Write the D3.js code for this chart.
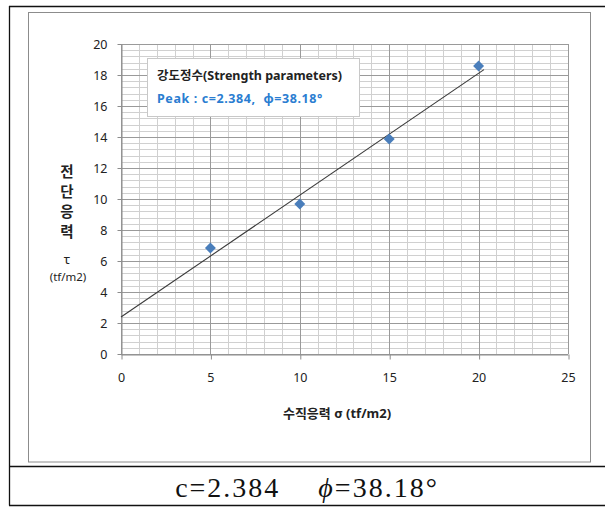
<!DOCTYPE html>
<html><head><meta charset="utf-8">
<script src="https://cdn.jsdelivr.net/npm/d3@7"></script>
<style>
html,body{margin:0;padding:0;background:#fff;}
svg{display:block;}
text{white-space:pre;}
</style></head>
<body>
<svg id="c" width="605" height="507"></svg>
<script>
// ---- data ----
const sigma = [5, 10, 15, 20];
const tau = [6.84, 9.68, 13.87, 18.58];
const cohesion = 2.384;
const phiDeg = 38.18;
const fitRange = [0, 20.3];
const xTicks = [0, 5, 10, 15, 20, 25];
const yTicks = [0, 2, 4, 6, 8, 10, 12, 14, 16, 18, 20];
const yTitleChars = ["전", "단", "응", "력"];
const boxTitle = "강도정수(Strength parameters)";
const boxText = "Peak : c=2.384,  ϕ=38.18°";
const xTitle = "수직응력 σ (tf/m2)";

const svg = d3.select("#c");
const font = "'Noto Sans','Noto Sans CJK KR',sans-serif";

// outer table
svg.append("line").attr("x1",9.5).attr("x2",9.5).attr("y1",6).attr("y2",505.5).attr("stroke","#111").attr("stroke-width",1.3);
svg.append("line").attr("x1",9).attr("x2",605).attr("y1",6.5).attr("y2",6.5).attr("stroke","#111").attr("stroke-width",1.3);
svg.append("line").attr("x1",9).attr("x2",605).attr("y1",466.5).attr("y2",466.5).attr("stroke","#111").attr("stroke-width",1.3);
svg.append("line").attr("x1",9).attr("x2",605).attr("y1",505.5).attr("y2",505.5).attr("stroke","#111").attr("stroke-width",1.3);
// inner chart frame
svg.append("rect").attr("x",28.5).attr("y",12.5).attr("width",562).attr("height",449.5)
  .attr("fill","#fff").attr("stroke","#8c8c8c").attr("stroke-width",1);

const x = d3.scaleLinear().domain([0,25]).range([121,568]);
const y = d3.scaleLinear().domain([0,20]).range([354,44]);

const g = svg.append("g");
// minor grid
const xMinor = d3.range(0, 25.001, 1);
const yMinor = d3.range(0, 20.001, 0.4);
g.selectAll(".vm").data(xMinor).join("line")
  .attr("x1",d=>Math.round(x(d))+0.5).attr("x2",d=>Math.round(x(d))+0.5)
  .attr("y1",y(0)).attr("y2",y(20)).attr("stroke","#d0d0d0");
g.selectAll(".hm").data(yMinor).join("line")
  .attr("y1",d=>Math.round(y(d))+0.5).attr("y2",d=>Math.round(y(d))+0.5)
  .attr("x1",x(0)).attr("x2",x(25)).attr("stroke","#d0d0d0");
// major grid
g.selectAll(".vM").data(xTicks).join("line")
  .attr("x1",d=>Math.round(x(d))+0.5).attr("x2",d=>Math.round(x(d))+0.5)
  .attr("y1",y(0)).attr("y2",y(20)).attr("stroke","#9a9a9a");
g.selectAll(".hM").data(yTicks).join("line")
  .attr("y1",d=>Math.round(y(d))+0.5).attr("y2",d=>Math.round(y(d))+0.5)
  .attr("x1",x(0)).attr("x2",x(25)).attr("stroke","#9a9a9a");

// axes
const xa = svg.append("g").attr("transform",`translate(0,${Math.round(y(0))+0.5})`)
  .call(d3.axisBottom(x).tickValues(xTicks).tickSize(5).tickPadding(14).tickSizeOuter(0));
const ya = svg.append("g").attr("transform",`translate(${Math.round(x(0))+0.5},0)`)
  .call(d3.axisLeft(y).tickValues(yTicks).tickSize(4).tickPadding(10).tickSizeOuter(0));
[xa, ya].forEach(a=>{
  a.select(".domain").attr("stroke","#8c8c8c");
  a.selectAll(".tick line").attr("stroke","#8c8c8c");
  a.selectAll("text").attr("fill","#222").attr("font-size",12.5).attr("font-family",font);
});
xa.selectAll(".tick line").attr("transform","translate(0.5,0)");

// fit line
const fit = d => cohesion + d*Math.tan(phiDeg*Math.PI/180);
svg.append("line").attr("x1",x(fitRange[0])).attr("y1",y(fit(fitRange[0])))
  .attr("x2",x(fitRange[1])).attr("y2",y(fit(fitRange[1])))
  .attr("stroke","#3a3a3a").attr("stroke-width",1.1);

// markers (square rotated 45° = diamond)
svg.selectAll(".pt").data(sigma).join("path")
  .attr("d", d3.symbol(d3.symbolSquare, 60))
  .attr("transform",(d,i)=>`translate(${x(d)},${y(tau[i])}) rotate(45)`)
  .attr("fill","#4a7ebb");

// text box
svg.append("rect").attr("x",147.5).attr("y",58.5).attr("width",212).attr("height",58)
  .attr("fill","#fff").attr("stroke","#c8c8c8");
svg.append("text").attr("x",157).attr("y",80).attr("font-family",font)
  .attr("font-size",12.5).attr("font-weight","bold").attr("fill","#222").text(boxTitle);
svg.append("text").attr("x",157).attr("y",103).attr("font-family",font)
  .attr("font-size",12.5).attr("font-weight","bold").attr("fill","#2a7dd1")
  .attr("letter-spacing",0.6).text(boxText);

// y title
svg.selectAll(".yt").data(yTitleChars).join("text")
  .attr("x",67).attr("y",(d,i)=>177+i*20).attr("text-anchor","middle")
  .attr("font-family",font).attr("font-size",14.5).attr("font-weight","bold").attr("fill","#222").text(d=>d);
svg.append("text").attr("x",67).attr("y",264).attr("text-anchor","middle")
  .attr("font-family",font).attr("font-size",13).attr("fill","#222").text("τ");
svg.append("text").attr("x",68).attr("y",281).attr("text-anchor","middle")
  .attr("font-family",font).attr("font-size",11.5).attr("fill","#222").text("(tf/m2)");

// x title
svg.append("text").attr("x",337).attr("y",418).attr("text-anchor","middle")
  .attr("font-family",font).attr("font-size",13).attr("font-weight","bold").attr("fill","#222").text(xTitle);

// bottom text
const bt = svg.append("text").attr("x",307).attr("y",497).attr("text-anchor","middle")
  .attr("font-family","'Liberation Serif','DejaVu Serif',serif").attr("font-size",28)
  .attr("letter-spacing",2).attr("fill","#111");
bt.append("tspan").text(`c=${cohesion}`);
bt.append("tspan").attr("dx",38).attr("font-style","italic").text("ϕ");
bt.append("tspan").text(`=${phiDeg}°`);
</script>
</body></html>
